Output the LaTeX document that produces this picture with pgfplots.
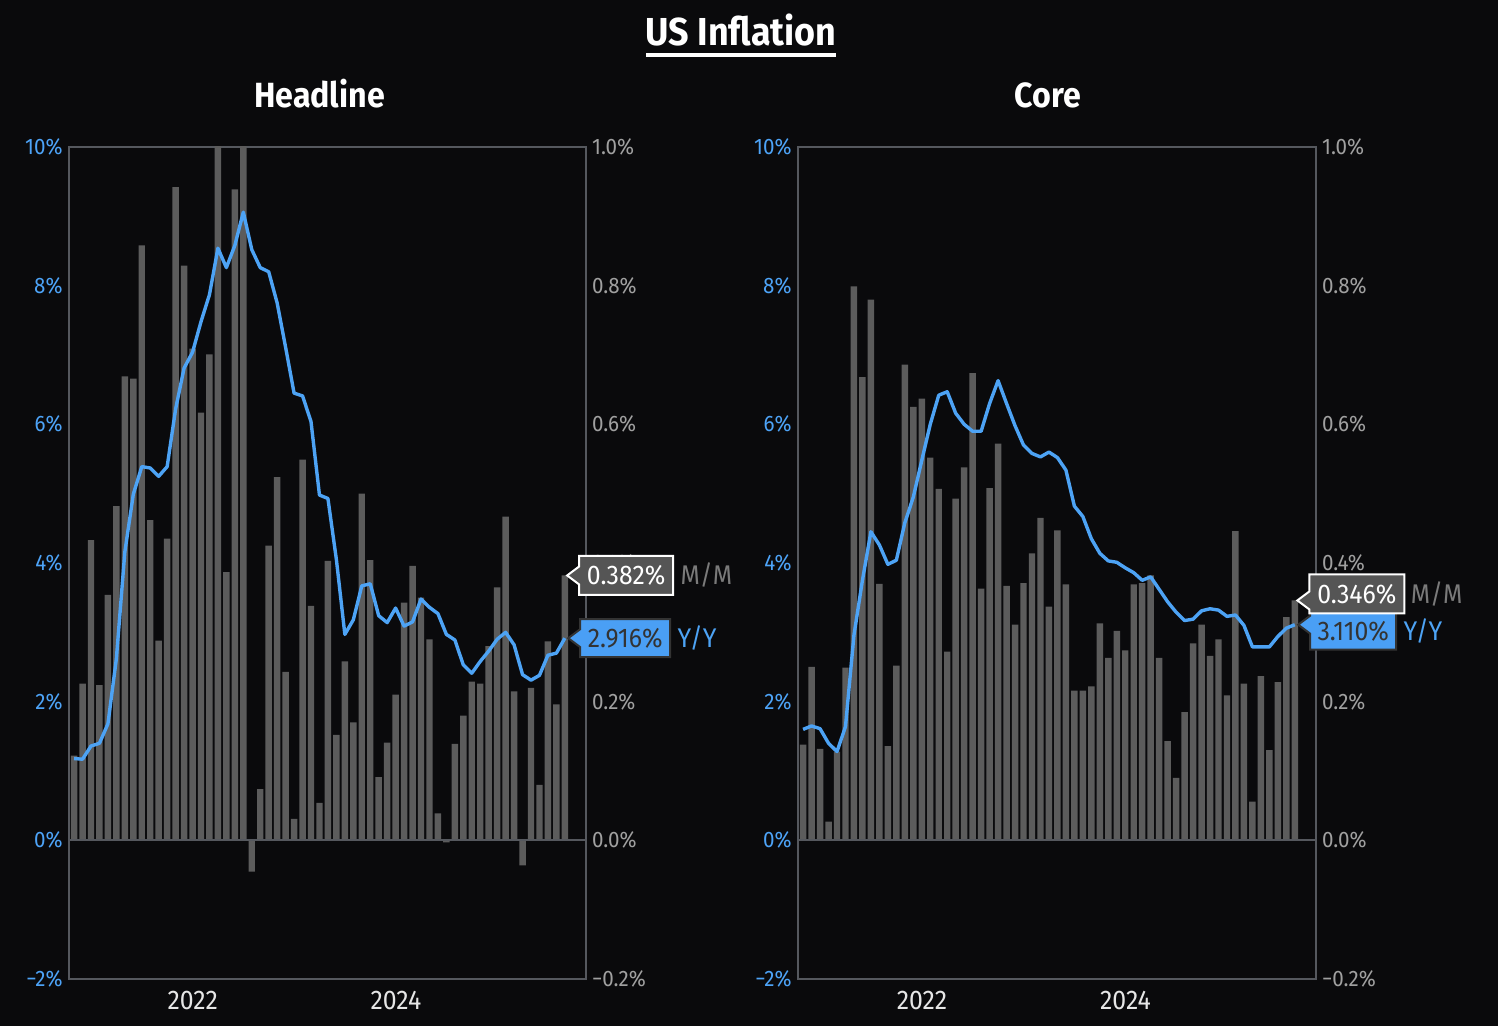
\documentclass[border=0pt]{standalone}
\usepackage{fontspec}
\setmainfont{Fira Sans}[FakeStretch=0.92]
\usepackage{pgfplots}
\pgfplotsset{compat=1.18}
\usepackage{pgfplotstable}
\usetikzlibrary{calc}

\definecolor{bgc}{HTML}{0A0A0C}
\definecolor{framec}{HTML}{55585E}
\definecolor{barc}{HTML}{5C5C5C}
\definecolor{lblue}{HTML}{4DA3F5}
\definecolor{tblue}{HTML}{4DA3F7}
\definecolor{rgray}{HTML}{A0A0A0}
\definecolor{xtc}{HTML}{E6E6E6}
\definecolor{taggray}{HTML}{555555}
\definecolor{tagblue}{HTML}{4A9FF5}
\definecolor{tagdark}{HTML}{333333}
\definecolor{mmgray}{HTML}{7A7A7A}

\newcommand\tagfont{\fontsize{13.5}{15}\selectfont}
\newcommand\tickfont{\fontsize{11.2}{13}\selectfont}

% #1 tip, #2 dy, #3 width, #4 height, #5 fill, #6 draw, #7 text colour, #8 text
\newcommand{\tagbox}[8]{%
  \draw[fill=#5, draw=#6, line width=1pt, line join=miter]
    (#1) -- ($(#1)+(6pt,4.5pt)$) -- ($(#1)+(6pt,#2+0.5*#4)$) -- ++(#3,0) -- ++(0,-#4) -- ($(#1)+(6pt,#2-0.5*#4)$) -- ($(#1)+(6pt,-4.5pt)$) -- cycle;
  \node[text=#7, font=\tagfont, inner sep=0pt] at ($(#1)+(6pt+0.5*#3,#2)$) {#8};
}

\pgfplotstableread{
x hm hy cm cy
0 0.122 1.18 0.138 1.60
1 0.226 1.17 0.250 1.65
2 0.433 1.36 0.132 1.61
3 0.224 1.40 0.027 1.40
4 0.354 1.68 0.128 1.28
5 0.482 2.62 0.249 1.64
6 0.669 4.16 0.799 2.96
7 0.666 4.99 0.668 3.75
8 0.858 5.39 0.780 4.45
9 0.462 5.37 0.370 4.26
10 0.288 5.25 0.136 3.98
11 0.435 5.39 0.252 4.04
12 0.942 6.22 0.686 4.58
13 0.829 6.81 0.625 4.95
14 0.709 7.04 0.637 5.48
15 0.617 7.48 0.552 6.00
16 0.701 7.87 0.507 6.42
17 1.150 8.54 0.272 6.47
18 0.387 8.26 0.493 6.16
19 0.939 8.58 0.538 6.00
20 1.150 9.06 0.674 5.90
21 -0.045 8.52 0.363 5.90
22 0.074 8.26 0.508 6.30
23 0.425 8.20 0.572 6.63
24 0.524 7.75 0.367 6.30
25 0.243 7.11 0.311 5.98
26 0.031 6.45 0.371 5.70
27 0.549 6.41 0.414 5.58
28 0.338 6.04 0.465 5.53
29 0.054 4.98 0.337 5.60
30 0.403 4.93 0.447 5.52
31 0.152 4.05 0.369 5.34
32 0.258 2.97 0.216 4.82
33 0.170 3.18 0.216 4.67
34 0.500 3.67 0.222 4.35
35 0.404 3.70 0.313 4.14
36 0.091 3.24 0.263 4.03
37 0.141 3.14 0.302 4.01
38 0.210 3.35 0.274 3.93
39 0.343 3.09 0.369 3.86
40 0.396 3.15 0.371 3.75
41 0.350 3.48 0.382 3.80
42 0.290 3.36 0.263 3.62
43 0.039 3.27 0.143 3.44
44 -0.003 2.97 0.090 3.29
45 0.139 2.89 0.185 3.17
46 0.180 2.53 0.284 3.19
47 0.229 2.41 0.311 3.31
48 0.226 2.58 0.266 3.34
49 0.280 2.73 0.290 3.32
50 0.365 2.90 0.209 3.23
51 0.467 3.00 0.446 3.25
52 0.215 2.82 0.226 3.10
53 -0.036 2.39 0.056 2.79
54 0.220 2.31 0.237 2.79
55 0.080 2.38 0.130 2.79
56 0.287 2.67 0.228 2.94
57 0.196 2.70 0.322 3.06
58 0.382 2.916 0.346 3.11
}\data

\pgfplotsset{
  base/.style={scale only axis, height=416pt, xmin=-0.6, xmax=60.5,
    major tick length=0pt, /pgf/number format/assume math mode=true},
  baraxis/.style={base, ymin=-0.2, ymax=1.0,
    axis line style={framec, line width=1pt},
    ytick={-0.2,0,0.2,0.4,0.6,0.8,1.0},
    yticklabels={−0.2\%,0.0\%,0.2\%,0.4\%,0.6\%,0.8\%,1.0\%},
    ytick pos=right, yticklabel pos=right,
    yticklabel style={text=rgray, font=\tickfont, xshift=-0.5pt},
    xtick={14.03,38.03}, xticklabels={2022,2024}, xtick pos=bottom,
    xticklabel style={text=xtc, font=\fontsize{13.5}{15}\selectfont, yshift=-2.5pt}},
  lineaxis/.style={base, ymin=-2, ymax=10,
    axis line style={draw=none},
    ytick={-2,0,2,4,6,8,10},
    yticklabels={−2\%,0\%,2\%,4\%,6\%,8\%,10\%},
    ytick pos=left, yticklabel pos=left,
    yticklabel style={text=tblue, font=\tickfont, xshift=0.3pt},
    xtick=\empty},
}

\begin{document}
\begin{tikzpicture}
\path[use as bounding box, fill=bgc] (0,0) rectangle (749pt,513pt);

% ---------- Headline ----------
\begin{axis}[baraxis, width=258.5pt, at={(34.5pt,23.5pt)}, anchor=south west]
  \addplot[ybar, bar width=0.76, fill=barc, draw=none] table[x=x,y=hm]{\data};
  \addplot[framec, line width=1pt, forget plot] coordinates {(-0.6,0) (60.5,0)};
  \coordinate (hmtip) at (axis cs:58.27,0.382);
\end{axis}
\begin{axis}[lineaxis, width=258.5pt, at={(34.5pt,23.5pt)}, anchor=south west]
  \addplot[lblue, line width=1.7pt, line join=round] table[x=x,y=hy]{\data};
  \coordinate (hytip) at (axis cs:58.4,2.916);
\end{axis}

% ---------- Core ----------
\begin{axis}[baraxis, width=259pt, at={(399pt,23.5pt)}, anchor=south west]
  \addplot[ybar, bar width=0.76, fill=barc, draw=none] table[x=x,y=cm]{\data};
  \addplot[framec, line width=1pt, forget plot] coordinates {(-0.6,0) (60.5,0)};
  \coordinate (cmtip) at (axis cs:58.3,0.346);
\end{axis}
\begin{axis}[lineaxis, width=259pt, at={(399pt,23.5pt)}, anchor=south west]
  \addplot[lblue, line width=1.7pt, line join=round] table[x=x,y=cy]{\data};
  \coordinate (cytip) at (axis cs:58.4,3.11);
\end{axis}

% ---------- value tags ----------
\tagbox{hytip}{0pt}{45pt}{19pt}{tagblue}{tagdark}{tagdark}{2.916\%}
\node[anchor=west, inner sep=0pt, text=lblue, font=\tagfont] at ($(hytip)+(54.5pt,0)$) {Y/Y};
\tagbox{hmtip}{0pt}{47pt}{19.5pt}{taggray}{white}{white}{0.382\%}
\node[anchor=west, inner sep=0pt, text=mmgray, font=\tagfont] at ($(hmtip)+(56.5pt,0)$) {M/M};

\tagbox{cytip}{-3.25pt}{43pt}{18.5pt}{tagblue}{tagdark}{tagdark}{3.110\%}
\node[anchor=west, inner sep=0pt, text=lblue, font=\tagfont] at ($(cytip)+(52.5pt,-3.25pt)$) {Y/Y};
\tagbox{cmtip}{3.25pt}{47.5pt}{19.5pt}{taggray}{white}{white}{0.346\%}
\node[anchor=west, inner sep=0pt, text=mmgray, font=\tagfont] at ($(cmtip)+(56.5pt,3.25pt)$) {M/M};

% ---------- titles ----------
\node[anchor=base, text=white, inner sep=0pt, font=\fontsize{19.5}{22}\selectfont\bfseries] at (370.5pt,490pt) {US Inflation};
\draw[white, line width=2pt] (323pt,485.6pt) -- (418pt,485.6pt);
\node[anchor=base, text=white, inner sep=0pt, font=\fontsize{17.5}{20}\selectfont\bfseries] at (159.75pt,459.35pt) {Headline};
\node[anchor=base, text=white, inner sep=0pt, font=\fontsize{17.5}{20}\selectfont\bfseries] at (524pt,459.35pt) {Core};
\end{tikzpicture}
\end{document}
